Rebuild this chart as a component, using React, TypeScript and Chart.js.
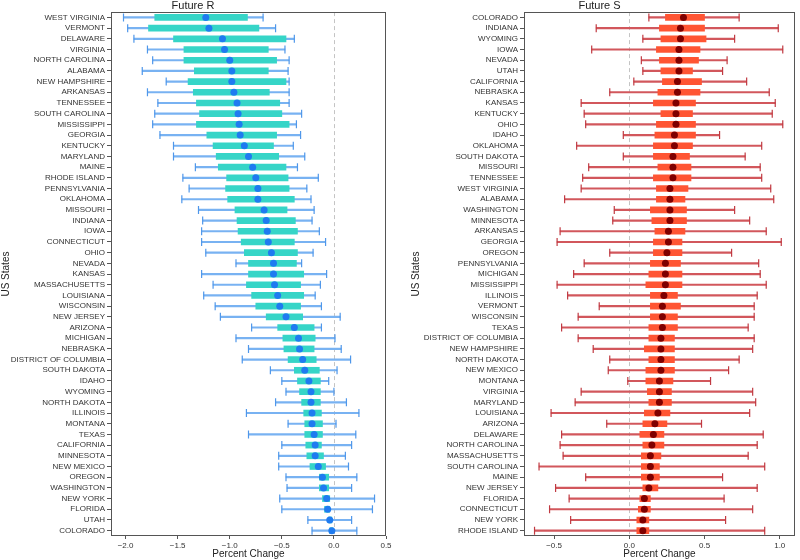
import React, { useEffect, useRef } from 'react';
import { Chart, registerables } from 'chart.js';

Chart.register(...registerables);

// ---------- Future R ----------
const statesR = [
  'WEST VIRGINIA', 'VERMONT', 'DELAWARE', 'VIRGINIA', 'NORTH CAROLINA', 'ALABAMA', 'NEW HAMPSHIRE',
  'ARKANSAS', 'TENNESSEE', 'SOUTH CAROLINA', 'MISSISSIPPI', 'GEORGIA', 'KENTUCKY', 'MARYLAND', 'MAINE',
  'RHODE ISLAND', 'PENNSYLVANIA', 'OKLAHOMA', 'MISSOURI', 'INDIANA', 'IOWA', 'CONNECTICUT', 'OHIO',
  'NEVADA', 'KANSAS', 'MASSACHUSETTS', 'LOUISIANA', 'WISCONSIN', 'NEW JERSEY', 'ARIZONA', 'MICHIGAN',
  'NEBRASKA', 'DISTRICT OF COLUMBIA', 'SOUTH DAKOTA', 'IDAHO', 'WYOMING', 'NORTH DAKOTA', 'ILLINOIS',
  'MONTANA', 'TEXAS', 'CALIFORNIA', 'MINNESOTA', 'NEW MEXICO', 'OREGON', 'WASHINGTON', 'NEW YORK',
  'FLORIDA', 'UTAH', 'COLORADO',
];
const rLow = [
  -2.02, -1.98, -1.92, -1.79, -1.74, -1.84, -1.61, -1.79, -1.69, -1.72, -1.74, -1.67, -1.54, -1.54, -1.33,
  -1.45, -1.39, -1.46, -1.30, -1.26, -1.27, -1.27, -1.23, -0.94, -1.27, -1.16, -1.25, -1.14, -1.09, -0.79,
  -0.94, -0.82, -0.88, -0.61, -0.50, -0.46, -0.56, -0.84, -0.44, -0.82, -0.50, -0.53, -0.53, -0.46, -0.45,
  -0.52, -0.50, -0.25, -0.21,
];
const rQ1 = [
  -1.72, -1.78, -1.54, -1.44, -1.44, -1.34, -1.40, -1.35, -1.32, -1.29, -1.32, -1.22, -1.16, -1.13, -1.11,
  -1.03, -1.04, -1.02, -0.95, -0.93, -0.92, -0.89, -0.86, -0.82, -0.82, -0.84, -0.79, -0.75, -0.65, -0.54,
  -0.49, -0.48, -0.44, -0.38, -0.35, -0.33, -0.31, -0.29, -0.28, -0.28, -0.27, -0.26, -0.23, -0.14, -0.14,
  -0.11, -0.09, -0.05, -0.04,
];
const rMed = [
  -1.23, -1.20, -1.07, -1.05, -1.00, -0.98, -0.98, -0.96, -0.93, -0.92, -0.91, -0.90, -0.86, -0.82, -0.78,
  -0.75, -0.73, -0.73, -0.67, -0.65, -0.64, -0.63, -0.60, -0.58, -0.58, -0.57, -0.54, -0.52, -0.46, -0.38,
  -0.34, -0.33, -0.30, -0.28, -0.24, -0.22, -0.22, -0.21, -0.21, -0.19, -0.18, -0.18, -0.15, -0.11, -0.10,
  -0.07, -0.06, -0.04, -0.02,
];
const rQ3 = [
  -0.83, -0.72, -0.46, -0.63, -0.55, -0.63, -0.46, -0.62, -0.52, -0.50, -0.43, -0.55, -0.58, -0.53, -0.46,
  -0.44, -0.43, -0.38, -0.45, -0.37, -0.35, -0.38, -0.35, -0.36, -0.29, -0.32, -0.29, -0.32, -0.30, -0.19,
  -0.18, -0.19, -0.17, -0.14, -0.13, -0.13, -0.13, -0.12, -0.11, -0.11, -0.12, -0.10, -0.08, -0.05, -0.05,
  -0.04, -0.04, -0.02, -0.01,
];
const rHigh = [
  -0.68, -0.56, -0.38, -0.47, -0.43, -0.44, -0.43, -0.43, -0.43, -0.31, -0.36, -0.32, -0.39, -0.28, -0.35,
  -0.15, -0.26, -0.22, -0.19, -0.21, -0.14, -0.08, -0.20, -0.31, -0.07, -0.13, -0.18, -0.12, 0.06, -0.12,
  0.01, 0.07, 0.16, 0.03, -0.05, 0.0, 0.12, 0.24, 0.02, 0.21, 0.17, 0.11, 0.14, 0.22, 0.17,
  0.39, 0.37, 0.17, 0.22,
];
const ticksR = [-2.0, -1.5, -1.0, -0.5, 0.0, 0.5];

// ---------- Future S ----------
const statesS = [
  'COLORADO', 'INDIANA', 'WYOMING', 'IOWA', 'NEVADA', 'UTAH', 'CALIFORNIA', 'NEBRASKA', 'KANSAS',
  'KENTUCKY', 'OHIO', 'IDAHO', 'OKLAHOMA', 'SOUTH DAKOTA', 'MISSOURI', 'TENNESSEE', 'WEST VIRGINIA',
  'ALABAMA', 'WASHINGTON', 'MINNESOTA', 'ARKANSAS', 'GEORGIA', 'OREGON', 'PENNSYLVANIA', 'MICHIGAN',
  'MISSISSIPPI', 'ILLINOIS', 'VERMONT', 'WISCONSIN', 'TEXAS', 'DISTRICT OF COLUMBIA', 'NEW HAMPSHIRE',
  'NORTH DAKOTA', 'NEW MEXICO', 'MONTANA', 'VIRGINIA', 'MARYLAND', 'LOUISIANA', 'ARIZONA', 'DELAWARE',
  'NORTH CAROLINA', 'MASSACHUSETTS', 'SOUTH CAROLINA', 'MAINE', 'NEW JERSEY', 'FLORIDA', 'CONNECTICUT',
  'NEW YORK', 'RHODE ISLAND',
];
const sLow = [
  0.13, -0.22, 0.09, -0.25, 0.08, 0.09, 0.03, -0.13, -0.32, -0.30, -0.29, -0.04, -0.35, -0.04, -0.27,
  -0.31, -0.32, -0.43, -0.10, -0.11, -0.46, -0.48, -0.13, -0.30, -0.37, -0.48, -0.41, -0.20, -0.34, -0.45,
  -0.34, -0.24, -0.13, -0.14, -0.01, -0.32, -0.36, -0.52, -0.15, -0.45, -0.46, -0.44, -0.60, -0.29, -0.49,
  -0.40, -0.53, -0.39, -0.63,
];
const sQ1 = [
  0.24, 0.20, 0.21, 0.18, 0.20, 0.21, 0.22, 0.19, 0.16, 0.21, 0.18, 0.17, 0.16, 0.16, 0.19,
  0.16, 0.18, 0.18, 0.14, 0.15, 0.17, 0.16, 0.16, 0.14, 0.13, 0.11, 0.14, 0.14, 0.14, 0.13,
  0.13, 0.10, 0.13, 0.11, 0.11, 0.12, 0.13, 0.10, 0.09, 0.07, 0.09, 0.08, 0.08, 0.08, 0.09,
  0.07, 0.06, 0.05, 0.05,
];
const sMed = [
  0.36, 0.34, 0.34, 0.33, 0.33, 0.33, 0.32, 0.32, 0.31, 0.31, 0.31, 0.30, 0.30, 0.29, 0.29,
  0.29, 0.27, 0.27, 0.27, 0.27, 0.26, 0.26, 0.25, 0.24, 0.24, 0.24, 0.23, 0.22, 0.22, 0.22,
  0.21, 0.21, 0.21, 0.21, 0.20, 0.20, 0.20, 0.19, 0.17, 0.16, 0.15, 0.14, 0.14, 0.14, 0.13,
  0.10, 0.10, 0.09, 0.09,
];
const sQ3 = [
  0.50, 0.50, 0.51, 0.47, 0.46, 0.42, 0.48, 0.47, 0.44, 0.42, 0.44, 0.44, 0.42, 0.40, 0.41,
  0.41, 0.39, 0.37, 0.38, 0.38, 0.37, 0.35, 0.35, 0.34, 0.35, 0.35, 0.32, 0.34, 0.32, 0.32,
  0.30, 0.30, 0.30, 0.30, 0.29, 0.28, 0.28, 0.27, 0.25, 0.23, 0.23, 0.21, 0.20, 0.20, 0.19,
  0.14, 0.14, 0.13, 0.13,
];
const sHigh = [
  0.73, 0.99, 0.70, 1.02, 0.65, 0.62, 0.78, 0.93, 0.97, 0.95, 1.02, 0.60, 0.88, 0.77, 0.87,
  0.88, 0.94, 0.96, 0.70, 0.80, 0.91, 1.01, 0.68, 0.86, 0.87, 0.91, 0.85, 0.83, 0.83, 0.79,
  0.83, 0.82, 0.73, 0.66, 0.54, 0.82, 0.84, 0.80, 0.48, 0.89, 0.85, 0.79, 0.90, 0.62, 0.85,
  0.63, 0.82, 0.64, 0.90,
];
const ticksS = [-0.5, 0.0, 0.5, 1.0];

const FONT = 'Liberation Sans, Arial, sans-serif';

type Panel = {
  title: string;
  states: string[];
  low: number[];
  q1: number[];
  med: number[];
  q3: number[];
  high: number[];
  ticks: number[];
  min: number;
  max: number;
  yWidth: number;
  padRight: number;
  yTitlePad: number;
  whisker: string;
  cap: string;
  box: string;
  dot: string;
};

const fmt = (v: number) => {
  const s = Math.abs(v).toFixed(1);
  return v < -1e-9 ? '\u2212' + s : s;
};

const framePlugin = {
  id: 'frame',
  beforeDatasetsDraw(chart: any) {
    const { ctx, chartArea } = chart;
    const x = chart.scales.x.getPixelForValue(0);
    ctx.save();
    ctx.strokeStyle = '#c4c4c4';
    ctx.lineWidth = 1;
    ctx.setLineDash([4, 3]);
    ctx.beginPath();
    ctx.moveTo(Math.round(x) + 0.5, chartArea.top);
    ctx.lineTo(Math.round(x) + 0.5, chartArea.bottom);
    ctx.stroke();
    ctx.restore();
  },
  afterDraw(chart: any) {
    const { ctx, chartArea } = chart;
    ctx.save();
    ctx.strokeStyle = '#555555';
    ctx.lineWidth = 1;
    ctx.strokeRect(
      Math.round(chartArea.left) + 0.5,
      Math.round(chartArea.top) + 0.5,
      Math.round(chartArea.right - chartArea.left) - 1,
      Math.round(chartArea.bottom - chartArea.top) - 1,
    );
    ctx.restore();
  },
};

function makeConfig(p: Panel): any {
  const pts = (arr: number[]) => arr.map((v, i) => ({ x: v, y: p.states[i] }));
  return {
    type: 'bar',
    data: {
      labels: p.states,
      datasets: [
        {
          type: 'bar',
          data: p.low.map((v, i) => [v, p.high[i]]),
          backgroundColor: p.whisker,
          borderWidth: 0,
          barThickness: 1.5,
          grouped: false,
          order: 4,
        },
        {
          type: 'bar',
          data: p.q1.map((v, i) => [v, p.q3[i]]),
          backgroundColor: p.box,
          borderWidth: 0,
          barThickness: 6,
          grouped: false,
          order: 3,
        },
        {
          type: 'line',
          indexAxis: 'y',
          data: pts(p.low),
          showLine: false,
          pointStyle: 'line',
          rotation: 90,
          pointRadius: 4,
          pointBorderColor: p.cap,
          pointBorderWidth: 1.2,
          order: 2,
        },
        {
          type: 'line',
          indexAxis: 'y',
          data: pts(p.high),
          showLine: false,
          pointStyle: 'line',
          rotation: 90,
          pointRadius: 4,
          pointBorderColor: p.cap,
          pointBorderWidth: 1.2,
          order: 1,
        },
        {
          type: 'line',
          indexAxis: 'y',
          data: pts(p.med),
          showLine: false,
          pointStyle: 'circle',
          pointRadius: 3.5,
          pointBackgroundColor: p.dot,
          pointBorderWidth: 0,
          order: 0,
        },
      ],
    },
    options: {
      indexAxis: 'y',
      responsive: false,
      animation: false,
      events: [],
      layout: { padding: { left: 0, right: p.padRight, top: 0, bottom: 0 } },
      plugins: {
        legend: { display: false },
        tooltip: { enabled: false },
        title: {
          display: true,
          text: p.title,
          color: '#222',
          font: { family: FONT, size: 11, weight: 'normal', lineHeight: 1.1 },
          padding: 0,
        },
      },
      scales: {
        x: {
          type: 'linear',
          min: p.min,
          max: p.max,
          afterBuildTicks: (scale: any) => {
            scale.ticks = p.ticks.map((v) => ({ value: v }));
          },
          afterFit: (scale: any) => {
            scale.height = 24;
          },
          ticks: {
            includeBounds: false,
            color: '#333',
            font: { family: FONT, size: 8 },
            padding: 2,
            callback: (v: number) => fmt(v),
          },
          grid: { drawOnChartArea: false, drawTicks: true, tickLength: 3, color: '#555' },
          border: { display: false },
          title: {
            display: true,
            text: 'Percent Change',
            color: '#222',
            font: { family: FONT, size: 10 },
            padding: 0,
          },
        },
        y: {
          type: 'category',
          offset: true,
          afterFit: (scale: any) => {
            scale.width = p.yWidth;
          },
          ticks: {
            autoSkip: false,
            color: '#333',
            font: { family: FONT, size: 8 },
            padding: 2,
          },
          grid: { offset: false, drawOnChartArea: false, drawTicks: true, tickLength: 4, color: '#555' },
          border: { display: false },
          title: {
            display: true,
            text: 'US States',
            color: '#222',
            font: { family: FONT, size: 10 },
            padding: { top: p.yTitlePad, bottom: 0 },
          },
        },
      },
    },
    plugins: [framePlugin],
  };
}

const panelR: Panel = {
  title: 'Future R',
  states: statesR, low: rLow, q1: rQ1, med: rMed, q3: rQ3, high: rHigh,
  ticks: ticksR, min: -2.14, max: 0.5,
  yWidth: 111, padRight: 14, yTitlePad: 0,
  whisker: '#78b2f2', cap: '#4f97ea', box: '#36d5c7', dot: '#1f7bf0',
};

const panelS: Panel = {
  title: 'Future S',
  states: statesS, low: sLow, q1: sQ1, med: sMed, q3: sQ3, high: sHigh,
  ticks: ticksS, min: -0.7, max: 1.1,
  yWidth: 124, padRight: 1, yTitlePad: 10,
  whisker: '#d2575c', cap: '#c03a42', box: '#ff5533', dot: '#7f0000',
};

function PanelChart({ panel, left }: { panel: Panel; left: number }) {
  const ref = useRef<HTMLCanvasElement | null>(null);
  useEffect(() => {
    if (!ref.current) return;
    const chart = new Chart(ref.current, makeConfig(panel));
    return () => chart.destroy();
  }, [panel]);
  return (
    <canvas
      ref={ref}
      width={400}
      height={560}
      style={{ position: 'absolute', left, top: 0, width: 400, height: 560, display: 'block' }}
    />
  );
}

export default function App() {
  return (
    <div style={{ position: 'absolute', left: 0, top: 0, width: 800, height: 560, background: '#fff' }}>
      <PanelChart panel={panelR} left={0} />
      <PanelChart panel={panelS} left={400} />
    </div>
  );
}
